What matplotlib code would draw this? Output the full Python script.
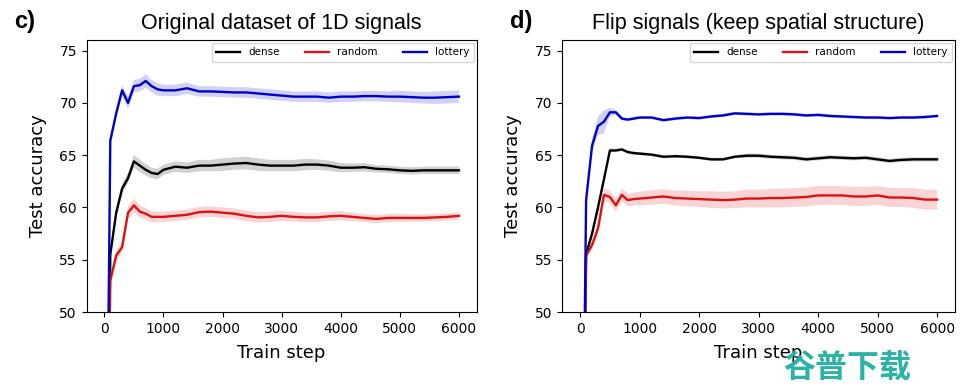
import matplotlib.pyplot as plt

# train steps at which test accuracy was logged
steps = list(range(0, 1001, 100)) + list(range(1200, 6001, 200))

# panel c) original dataset
orig_dense = [10, 55.5, 59.5, 61.8, 62.8, 64.4, 64.0, 63.6, 63.3, 63.2, 63.6,
              63.9, 63.8, 64.0, 64.0, 64.1, 64.2, 64.25, 64.1, 64.0, 64.0,
              64.0, 64.1, 64.1, 64.0, 63.8, 63.8, 63.85, 63.7, 63.65, 63.55,
              63.5, 63.55, 63.55, 63.55, 63.55]
orig_dense_sd = [0, 0.4, 0.5, 0.5, 0.5, 0.6, 0.6, 0.55, 0.5, 0.5, 0.5,
                 0.5, 0.5, 0.55, 0.55, 0.6, 0.6, 0.6, 0.6, 0.55, 0.55,
                 0.55, 0.55, 0.5, 0.5, 0.45, 0.4, 0.4, 0.35, 0.35, 0.35,
                 0.35, 0.35, 0.35, 0.35, 0.35]
orig_random = [10, 53.0, 55.4, 56.2, 59.5, 60.2, 59.6, 59.4, 59.1, 59.1, 59.1,
               59.2, 59.3, 59.55, 59.6, 59.5, 59.4, 59.2, 59.05, 59.1, 59.2,
               59.1, 59.05, 59.05, 59.15, 59.2, 59.1, 59.0, 58.9, 59.0, 59.0,
               59.0, 59.0, 59.05, 59.1, 59.2]
orig_random_sd = [0, 0.4, 0.5, 0.5, 0.6, 0.65, 0.6, 0.55, 0.55, 0.5, 0.5,
                  0.5, 0.5, 0.5, 0.5, 0.5, 0.5, 0.5, 0.5, 0.5, 0.5,
                  0.45, 0.45, 0.45, 0.45, 0.45, 0.4, 0.4, 0.4, 0.4, 0.4,
                  0.35, 0.35, 0.35, 0.35, 0.35]
orig_lottery = [10, 66.4, 69.0, 71.2, 70.0, 71.6, 71.7, 72.1, 71.6, 71.3, 71.2,
                71.2, 71.4, 71.1, 71.1, 71.05, 71.0, 71.0, 70.9, 70.8, 70.7,
                70.6, 70.6, 70.6, 70.5, 70.6, 70.6, 70.65, 70.65, 70.6, 70.6,
                70.55, 70.5, 70.5, 70.55, 70.6]
orig_lottery_sd = [0, 0.3, 0.5, 0.5, 0.6, 0.6, 0.6, 0.65, 0.6, 0.6, 0.55,
                   0.55, 0.55, 0.5, 0.5, 0.5, 0.5, 0.5, 0.5, 0.5, 0.5,
                   0.5, 0.5, 0.5, 0.5, 0.5, 0.5, 0.5, 0.5, 0.5, 0.55,
                   0.55, 0.55, 0.6, 0.6, 0.6]

# panel d) flipped signals
flip_dense = [10, 55.5, 57.5, 60.0, 62.7, 65.45, 65.45, 65.55, 65.3, 65.2, 65.15,
              65.05, 64.85, 64.9, 64.85, 64.75, 64.6, 64.6, 64.85, 64.95, 64.95,
              64.85, 64.8, 64.75, 64.6, 64.7, 64.8, 64.75, 64.7, 64.75, 64.6,
              64.45, 64.55, 64.6, 64.6, 64.6]
flip_dense_sd = [0, 0.3, 0.4, 0.4, 0.4, 0.2, 0.15, 0.15, 0.15, 0.15, 0.15,
                 0.15, 0.15, 0.15, 0.15, 0.15, 0.15, 0.15, 0.15, 0.2, 0.2,
                 0.2, 0.2, 0.2, 0.2, 0.2, 0.2, 0.2, 0.2, 0.2, 0.2,
                 0.2, 0.2, 0.2, 0.2, 0.2]
flip_random = [10, 55.4, 56.4, 58.0, 61.2, 61.0, 60.2, 61.2, 60.7, 60.8, 60.85,
               60.95, 61.05, 60.9, 60.85, 60.8, 60.75, 60.7, 60.75, 60.85, 60.85,
               60.9, 60.9, 60.95, 61.0, 61.15, 61.15, 61.15, 61.05, 61.05, 61.15,
               60.95, 60.95, 60.9, 60.75, 60.75]
flip_random_sd = [0, 0.3, 0.4, 0.4, 0.6, 0.6, 0.6, 0.6, 0.6, 0.6, 0.65,
                  0.7, 0.7, 0.7, 0.75, 0.75, 0.8, 0.8, 0.8, 0.85, 0.85,
                  0.9, 0.9, 0.9, 0.9, 0.9, 0.9, 0.9, 0.9, 0.9, 0.9,
                  0.9, 0.9, 0.95, 0.95, 0.95]
flip_lottery = [10, 60.7, 65.9, 67.8, 68.2, 69.1, 69.1, 68.5, 68.4, 68.5, 68.6,
                68.6, 68.35, 68.5, 68.6, 68.55, 68.7, 68.8, 69.0, 68.95, 68.9,
                68.95, 68.95, 68.9, 68.8, 68.85, 68.75, 68.7, 68.65, 68.6, 68.6,
                68.55, 68.6, 68.6, 68.65, 68.75]
flip_lottery_sd = [0, 0.5, 0.6, 0.9, 1.1, 0.4, 0.25, 0.15, 0.15, 0.15, 0.15,
                   0.15, 0.15, 0.15, 0.15, 0.15, 0.15, 0.15, 0.15, 0.15, 0.15,
                   0.15, 0.15, 0.15, 0.15, 0.15, 0.15, 0.15, 0.15, 0.15, 0.15,
                   0.15, 0.15, 0.15, 0.15, 0.15]

labels = ['dense', 'random', 'lottery']
colors = ['black', '#dd1111', '#0000cc']
yticks = [50, 55, 60, 65, 70, 75]


def draw_panel(ax, series, title):
    for (mean, sd), name, col in zip(series, labels, colors):
        lo = [m - s for m, s in zip(mean, sd)]
        hi = [m + s for m, s in zip(mean, sd)]
        ax.fill_between(steps, lo, hi, color=col, alpha=0.18, lw=0)
        ax.plot(steps, mean, color=col, lw=1.7, label=name)
    ax.set_ylim(50, 76)
    ax.set_yticks(yticks)
    ax.set_xticks(range(0, 6001, 1000))
    ax.tick_params(labelsize=10)
    ax.set_xlabel('Train step', fontsize=13, labelpad=6)
    ax.set_ylabel('Test accuracy', fontsize=13, labelpad=9)
    ax.set_title(title, fontsize=15.5, family='Liberation Sans', pad=8)
    ax.legend(loc='upper right', ncol=3, fontsize=7.5, handlelength=2.3,
              columnspacing=2.4, borderaxespad=0.3, framealpha=0.8)


fig = plt.figure(figsize=(9.65, 3.9), dpi=100)
ax1 = fig.add_axes([0.0898, 0.2, 0.4042, 0.697])
ax2 = fig.add_axes([0.5827, 0.2, 0.4069, 0.697])

draw_panel(ax1, [(orig_dense, orig_dense_sd), (orig_random, orig_random_sd),
                 (orig_lottery, orig_lottery_sd)],
           'Original dataset of 1D signals')
draw_panel(ax2, [(flip_dense, flip_dense_sd), (flip_random, flip_random_sd),
                 (flip_lottery, flip_lottery_sd)],
           'Flip signals (keep spatial structure)')

for tag, xpos in [('c)', 0.0145), ('d)', 0.528)]:
    fig.text(xpos, 0.945, tag, fontsize=17, fontweight='bold',
             family='Liberation Sans', ha='left', va='center')

fig.text(0.878, 0.056, '谷普下载', fontsize=23, fontweight='heavy', color='#2bb3a3',
         family=['Noto Sans CJK SC', 'DejaVu Sans'], ha='center', va='center')

fig.savefig('out.png', dpi=100)
